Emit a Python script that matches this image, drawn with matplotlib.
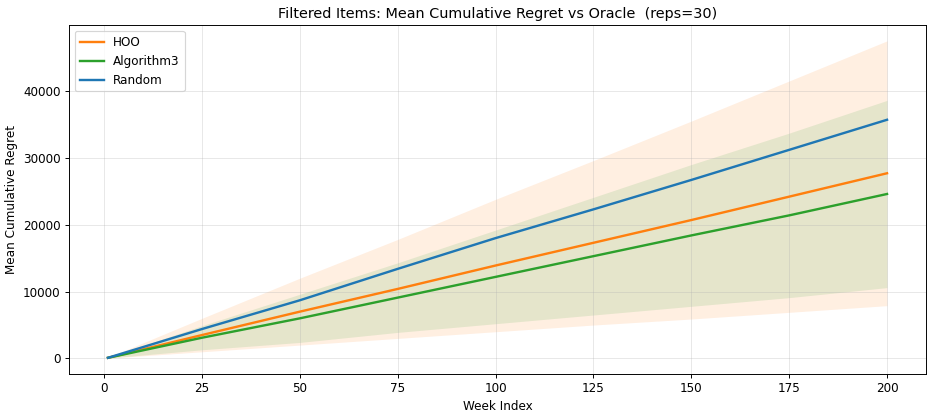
import matplotlib
matplotlib.use("Agg")
import matplotlib.pyplot as plt
import numpy as np

# values
weeks = [1, 25, 50, 75, 100, 125, 150, 175, 200]
hoo_mean = [100, 3500, 7000, 10400, 13900, 17300, 20700, 24200, 27700]
hoo_std = [50, 2500, 5000, 7400, 9900, 12300, 14800, 17300, 19800]
alg3_mean = [100, 3100, 6000, 9100, 12200, 15300, 18400, 21400, 24600]
alg3_std = [40, 1800, 3600, 5200, 7000, 8800, 10600, 12300, 14000]
random_mean = [100, 4400, 8700, 13400, 18000, 22300, 26700, 31200, 35700]

DPI = 86
fig = plt.figure(figsize=(933 / DPI, 414 / DPI), dpi=DPI)
ax = fig.add_axes([69 / 933, 40 / 414, 857 / 933, 349 / 414])

w = np.array(weeks)
hm, hs = np.array(hoo_mean), np.array(hoo_std)
am, as_ = np.array(alg3_mean), np.array(alg3_std)

ax.plot(w, hm, color="#ff7f0e", lw=2, label="HOO")
ax.fill_between(w, hm - hs, hm + hs, color="#ff7f0e", alpha=0.12, lw=0)
ax.plot(w, am, color="#2ca02c", lw=2, label="Algorithm3")
ax.fill_between(w, am - as_, am + as_, color="#2ca02c", alpha=0.12, lw=0)
ax.plot(w, random_mean, color="#1f77b4", lw=2, label="Random")

ax.set_title("Filtered Items: Mean Cumulative Regret vs Oracle  (reps=30)")
ax.set_xlabel("Week Index")
ax.set_ylabel("Mean Cumulative Regret")
ax.grid(True, alpha=0.3)
ax.legend(loc="upper left")

fig.savefig("out.png", dpi=DPI)
